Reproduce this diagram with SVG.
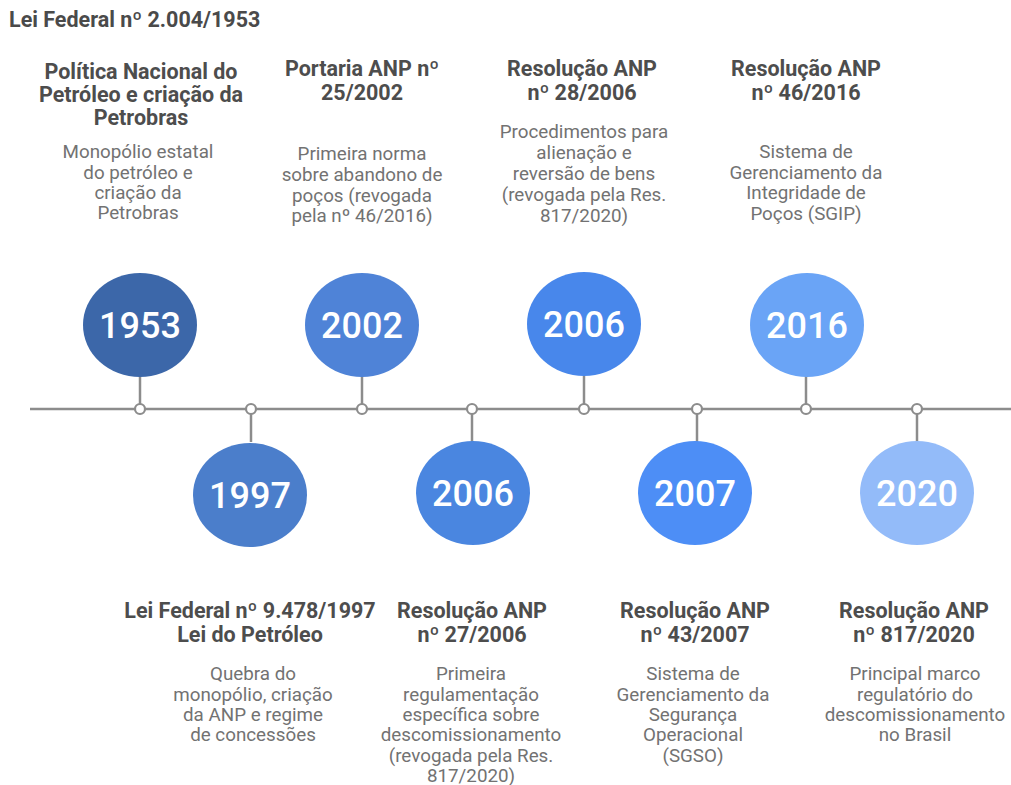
<svg xmlns="http://www.w3.org/2000/svg" width="1011" height="785" viewBox="0 0 1011 785">
<style>
.t{font-family:Roboto,"Liberation Sans",sans-serif;font-weight:700;font-size:21.5px;fill:#4a4a4a}
.h{font-family:Roboto,"Liberation Sans",sans-serif;font-weight:700;font-size:21.5px;fill:#4d4d4d;text-anchor:middle}
.d{font-family:Roboto,"Liberation Sans",sans-serif;font-weight:400;font-size:18.8px;fill:#727272;text-anchor:middle}
.y{font-family:Roboto,"Liberation Sans",sans-serif;font-weight:500;font-size:36px;fill:#ffffff;text-anchor:middle}
.ln{stroke:#8c8c8c;stroke-width:2.5;fill:none}
.dot{stroke:#8c8c8c;stroke-width:2.2;fill:#ffffff}
</style>
<rect width="1011" height="785" fill="#ffffff"/>
<text class="t" x="9" y="27">Lei Federal nº 2.004/1953</text>
<g id="connectors">
<line class="ln" x1="30" y1="409" x2="1011" y2="409"/>
<line class="ln" x1="140" y1="376" x2="140" y2="409"/>
<line class="ln" x1="251" y1="409" x2="251" y2="442"/>
<line class="ln" x1="362" y1="376" x2="362" y2="409"/>
<line class="ln" x1="472" y1="409" x2="472" y2="442"/>
<line class="ln" x1="584" y1="376" x2="584" y2="409"/>
<line class="ln" x1="697" y1="409" x2="697" y2="442"/>
<line class="ln" x1="806" y1="376" x2="806" y2="409"/>
<line class="ln" x1="917" y1="409" x2="917" y2="442"/>
<circle class="dot" cx="140" cy="409" r="5"/>
<circle class="dot" cx="251" cy="409" r="5"/>
<circle class="dot" cx="362" cy="409" r="5"/>
<circle class="dot" cx="472" cy="409" r="5"/>
<circle class="dot" cx="584" cy="409" r="5"/>
<circle class="dot" cx="697" cy="409" r="5"/>
<circle class="dot" cx="806" cy="409" r="5"/>
<circle class="dot" cx="917" cy="409" r="5"/>
</g>
<g id="n1953">
<ellipse cx="140" cy="325" rx="57" ry="52" fill="#3c67a9"/>
<text class="y" x="140" y="338">1953</text>
<text class="h" x="141" y="79">Política Nacional do</text>
<text class="h" x="141" y="102">Petróleo e criação da</text>
<text class="h" x="141" y="125">Petrobras</text>
<text class="d" x="138" y="158">Monopólio estatal</text>
<text class="d" x="138" y="179">do petróleo e</text>
<text class="d" x="138" y="199">criação da</text>
<text class="d" x="138" y="219">Petrobras</text>
</g>
<g id="n1997">
<ellipse cx="250" cy="495" rx="57" ry="52" fill="#4b7ecb"/>
<text class="y" x="250" y="508">1997</text>
<text class="h" x="250" y="618">Lei Federal nº 9.478/1997</text>
<text class="h" x="250" y="642">Lei do Petróleo</text>
<text class="d" x="253" y="680">Quebra do</text>
<text class="d" x="253" y="701">monopólio, criação</text>
<text class="d" x="253" y="721">da ANP e regime</text>
<text class="d" x="253" y="741">de concessões</text>
</g>
<g id="n2002">
<ellipse cx="362" cy="325" rx="57" ry="52" fill="#4f83d7"/>
<text class="y" x="362" y="338">2002</text>
<text class="h" x="362" y="76">Portaria ANP nº</text>
<text class="h" x="362" y="100">25/2002</text>
<text class="d" x="362" y="160">Primeira norma</text>
<text class="d" x="362" y="181">sobre abandono de</text>
<text class="d" x="362" y="202">poços (revogada</text>
<text class="d" x="362" y="222">pela nº 46/2016)</text>
</g>
<g id="n2006b">
<ellipse cx="473" cy="493" rx="57" ry="52" fill="#4a86e0"/>
<text class="y" x="473" y="506">2006</text>
<text class="h" x="472" y="618">Resolução ANP</text>
<text class="h" x="472" y="642">nº 27/2006</text>
<text class="d" x="471" y="680">Primeira</text>
<text class="d" x="471" y="701">regulamentação</text>
<text class="d" x="471" y="721">específica sobre</text>
<text class="d" x="471" y="741">descomissionamento</text>
<text class="d" x="471" y="762">(revogada pela Res.</text>
<text class="d" x="471" y="782">817/2020)</text>
</g>
<g id="n2006t">
<ellipse cx="584" cy="324" rx="57" ry="52" fill="#4887eb"/>
<text class="y" x="584" y="337">2006</text>
<text class="h" x="582" y="76">Resolução ANP</text>
<text class="h" x="582" y="100">nº 28/2006</text>
<text class="d" x="584" y="138">Procedimentos para</text>
<text class="d" x="584" y="159">alienação e</text>
<text class="d" x="584" y="180">reversão de bens</text>
<text class="d" x="584" y="201">(revogada pela Res.</text>
<text class="d" x="584" y="222">817/2020)</text>
</g>
<g id="n2007">
<ellipse cx="695" cy="493" rx="57" ry="52" fill="#4d8ef6"/>
<text class="y" x="695" y="506">2007</text>
<text class="h" x="695" y="618">Resolução ANP</text>
<text class="h" x="695" y="642">nº 43/2007</text>
<text class="d" x="693" y="680">Sistema de</text>
<text class="d" x="693" y="701">Gerenciamento da</text>
<text class="d" x="693" y="721">Segurança</text>
<text class="d" x="693" y="741">Operacional</text>
<text class="d" x="693" y="762">(SGSO)</text>
</g>
<g id="n2016">
<ellipse cx="807" cy="325" rx="57" ry="52" fill="#6aa4f6"/>
<text class="y" x="807" y="338">2016</text>
<text class="h" x="806" y="76">Resolução ANP</text>
<text class="h" x="806" y="100">nº 46/2016</text>
<text class="d" x="806" y="158">Sistema de</text>
<text class="d" x="806" y="179">Gerenciamento da</text>
<text class="d" x="806" y="199">Integridade de</text>
<text class="d" x="806" y="220">Poços (SGIP)</text>
</g>
<g id="n2020">
<ellipse cx="917" cy="493" rx="57" ry="52" fill="#93bbf9"/>
<text class="y" x="917" y="506">2020</text>
<text class="h" x="914" y="618">Resolução ANP</text>
<text class="h" x="914" y="642">nº 817/2020</text>
<text class="d" x="915" y="680">Principal marco</text>
<text class="d" x="915" y="701">regulatório do</text>
<text class="d" x="915" y="721">descomissionamento</text>
<text class="d" x="915" y="741">no Brasil</text>
</g>
</svg>
